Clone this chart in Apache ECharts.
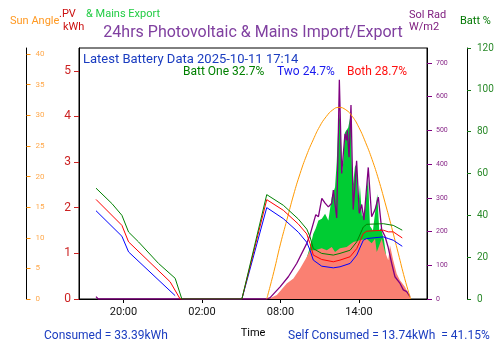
<!DOCTYPE html>
<html><head><meta charset="utf-8">
<script src="https://cdn.jsdelivr.net/npm/echarts@6/dist/echarts.min.js"></script>
<style>html,body{margin:0;padding:0;background:#fff}#c{width:500px;height:353px}</style>
</head><body><div id="c"></div>
<script>
// Hours on a continuous scale: day 2 hours are +24
const xTickHours = [20, 26, 32, 38];
const pvTicks = [0, 1, 2, 3, 4, 5];
const sunTicks = [0, 5, 10, 15, 20, 25, 30, 35, 40];
const solTicks = [0, 100, 200, 300, 400, 500, 600, 700];
const battTicks = [0, 20, 40, 60, 80, 100, 120];

const sunAngle = [[30.95,0],[31.5,4.5],[32,9],[32.5,13],[33,17],[33.5,20.5],[34,23.5],[34.5,26],[35,28.2],[35.5,29.8],[36,30.9],[36.45,31.3],[37,30.9],[37.5,29.8],[38,28],[38.5,25.6],[39,22.8],[39.5,19.5],[40,15.7],[40.5,11.7],[41,7.5],[41.5,3.3],[41.95,0]];

const solRad = [[17.90,7],[18.07,0],[30.95,0],[31.21,4],[31.97,36],[32.60,66],[33.25,106],[34.01,165],[34.26,190],[34.51,224],[34.70,250],[34.90,244],[35.16,298],[35.41,284],[35.66,273],[35.92,284],[36.04,323],[36.30,240],[36.50,650],[36.68,372],[36.93,490],[37.05,470],[37.11,500],[37.24,420],[37.39,575],[37.56,265],[37.82,410],[38.02,254],[38.21,280],[38.38,234],[38.71,390],[38.97,244],[39.23,265],[39.48,302],[39.74,205],[39.99,186],[40.22,155],[40.50,106],[40.75,66],[41.14,46],[41.39,27],[41.65,22],[41.90,7]];

const mainsExport = [[34.0,0.9],[34.26,1.14],[34.51,1.43],[34.70,1.55],[34.90,1.72],[35.16,1.76],[35.41,1.87],[35.66,1.72],[35.92,2.23],[36.17,2.45],[36.30,3.0],[36.42,3.8],[36.55,4.1],[36.68,3.0],[36.75,2.8],[36.93,3.65],[37.18,3.76],[37.37,4.05],[37.50,2.4],[37.69,2.9],[37.82,2.96],[37.96,2.0],[38.07,2.5],[38.23,1.8],[38.46,1.95],[38.69,2.7],[38.84,1.6],[39.07,1.5],[39.40,2.3],[39.55,1.5],[39.68,1.55],[39.91,1.3],[40.05,1.0]];

const pvUsed = [[31.08,0],[31.72,0.09],[32.48,0.34],[32.99,0.45],[33.50,0.67],[34.01,0.92],[34.26,1.07],[34.64,1.07],[35.15,1.11],[35.54,1.07],[35.92,1.14],[36.17,1.03],[36.55,1.11],[37.06,1.14],[37.57,1.25],[38.08,1.29],[38.59,1.32],[38.97,1.22],[39.23,1.32],[39.36,1.03],[39.74,1.32],[39.99,1.03],[40.24,0.85],[40.37,1.18],[40.62,0.85],[40.88,0.56],[41.13,0.41],[41.51,0.27],[41.90,0.05],[41.95,0]];

const battOne = [[17.90,53.0],[19.12,45.6],[19.88,40.0],[20.39,32.0],[21.15,27.3],[22.68,17.0],[23.95,9.9],[24.46,0],[29.05,0],[30.95,49.9],[32.22,44.8],[33.37,38.2],[34.01,33.4],[34.26,29.7],[34.51,24.1],[35.15,21.8],[36.04,21.0],[36.55,21.8],[37.32,23.3],[37.83,27.3],[38.33,34.4],[38.59,35.7],[39.86,36.0],[40.62,35.2],[41.31,32.9]];
const battBoth = [[17.90,47.6],[19.88,35.2],[20.39,27.3],[23.57,8.2],[24.33,0],[29.05,0],[30.95,47.5],[32.22,42.4],[33.37,35.8],[34.01,31.1],[34.26,26.5],[34.51,21.0],[35.15,18.9],[36.04,17.8],[36.55,18.6],[37.32,20.2],[37.83,24.1],[38.33,31.3],[38.59,32.4],[39.86,32.9],[40.24,32.1],[40.62,32.1],[41.31,29.2]];
const battTwo = [[17.90,42.2],[19.88,30.0],[20.39,22.5],[23.95,1.6],[24.2,'-'],[24.5,0],[29.05,0],[30.95,43.7],[32.22,38.4],[33.37,31.9],[34.01,27.1],[34.26,23.3],[34.51,18.6],[35.15,15.7],[36.04,14.9],[36.55,15.4],[37.32,17.0],[37.83,21.0],[38.33,28.1],[38.59,28.9],[39.86,29.7],[40.24,28.9],[40.62,28.1],[41.31,25.2]];

const FONT = 'Roboto, "Noto Sans", sans-serif';
function hh(v){ const h = ((Math.round(v) % 24) + 24) % 24; return (h < 10 ? '0' : '') + h + ':00'; }
function txt(x, y, text, fill, size, align){
  return {type:'text', x:x, y:y, silent:true, style:{text:text, fill:fill, font: size + 'px ' + FONT, align: align || 'left', verticalAlign:'middle'}};
}

const chart = echarts.init(document.getElementById('c'), null, {renderer:'canvas'});
chart.setOption({
  animation:false,
  backgroundColor:'#fff',
  grid:{left:79, right:73, top:48, bottom:54, show:true, borderColor:'#000', borderWidth:1, backgroundColor:'#fff'},
  xAxis:{type:'value', min:16.6, max:43.2,
    name:'Time', nameLocation:'middle', nameGap:29, nameTextStyle:{color:'#000', fontSize:11, fontFamily:FONT},
    axisLine:{show:true, lineStyle:{color:'#000'}},
    axisTick:{show:true, length:4, lineStyle:{color:'#000'}, customValues:xTickHours},
    axisLabel:{color:'#111', fontSize:11, fontFamily:FONT, margin:8, customValues:xTickHours, formatter:hh},
    splitLine:{show:false}},
  yAxis:[
    {type:'value', position:'left', offset:0, min:0, max:5.5,
      axisLine:{show:true, lineStyle:{color:'#000'}},
      axisTick:{show:true, length:5, lineStyle:{color:'#cc2222'}, customValues:pvTicks},
      axisLabel:{color:'#cc2222', fontSize:12, fontFamily:FONT, margin:8, customValues:pvTicks},
      splitLine:{show:false}},
    {type:'value', position:'left', offset:52.5, min:0, max:41,
      axisLine:{show:true, lineStyle:{color:'#000'}},
      axisTick:{show:true, inside:true, length:4, lineStyle:{color:'#ff8c00'}, customValues:sunTicks},
      axisLabel:{inside:true, color:'#ffa94d', fontSize:8, fontFamily:FONT, margin:9, customValues:sunTicks},
      splitLine:{show:false}},
    {type:'value', position:'right', offset:0, min:0, max:744,
      axisLine:{show:true, lineStyle:{color:'#000'}},
      axisTick:{show:true, length:5, lineStyle:{color:'#800080'}, customValues:solTicks},
      axisLabel:{color:'#8a2a8a', fontSize:7, fontFamily:FONT, margin:9, customValues:solTicks},
      splitLine:{show:false}},
    {type:'value', position:'right', offset:40, min:0, max:120,
      axisLine:{show:true, lineStyle:{color:'#000'}},
      axisTick:{show:true, length:4, lineStyle:{color:'#1a7a1a'}, customValues:battTicks},
      axisLabel:{color:'#2a8a2a', fontSize:10, fontFamily:FONT, margin:10, customValues:battTicks},
      splitLine:{show:false}}
  ],
  series:[
    {name:'Mains Export', type:'line', yAxisIndex:0, data:mainsExport, symbol:'none', lineStyle:{width:0}, areaStyle:{color:'#00cc33', opacity:1}, z:1},
    {name:'PV', type:'line', yAxisIndex:0, data:pvUsed, symbol:'none', lineStyle:{width:0}, areaStyle:{color:'#fa8072', opacity:1}, z:2},
    {name:'Sol Rad', type:'line', yAxisIndex:2, data:solRad, symbol:'none', lineStyle:{color:'#800080', width:1.3}, z:3},
    {name:'Sun Angle', type:'line', yAxisIndex:1, data:sunAngle, symbol:'none', smooth:true, lineStyle:{color:'#ff9900', width:1}, z:4},
    {name:'Two', type:'line', yAxisIndex:3, data:battTwo, symbol:'none', connectNulls:false, lineStyle:{color:'#0000ff', width:1}, z:5},
    {name:'Both', type:'line', yAxisIndex:3, data:battBoth, symbol:'none', lineStyle:{color:'#ff0000', width:1}, z:6},
    {name:'One', type:'line', yAxisIndex:3, data:battOne, symbol:'none', lineStyle:{color:'#008000', width:1}, z:7}
  ],
  graphic:[
    txt(10, 21, 'Sun Angle', '#ff9922', 11),
    txt(59, 14, '.PV', '#cc1111', 11),
    txt(63, 27, 'kWh', '#cc1111', 11),
    txt(86, 14, '& Mains Export', '#22cc44', 11),
    txt(253, 33, '24hrs Photovoltaic & Mains Import/Export', '#8040a0', 16, 'center'),
    txt(409, 15, 'Sol Rad', '#802080', 11),
    txt(409, 27, 'W/m2', '#802080', 11),
    txt(460, 21, 'Batt %', '#007700', 11),
    txt(83, 60, 'Latest Battery Data 2025-10-11 17:14', '#1a3cc0', 13),
    txt(183, 72, 'Batt One 32.7%', '#008000', 12),
    txt(277, 72, 'Two 24.7%', '#1a1aee', 12),
    txt(347, 72, 'Both 28.7%', '#ff1111', 12),
    txt(44, 336, 'Consumed = 33.39kWh', '#1a3cc0', 12),
    txt(288, 336, 'Self Consumed = 13.74kWh  = 41.15%', '#1a3cc0', 12)
  ]
});
</script></body></html>
